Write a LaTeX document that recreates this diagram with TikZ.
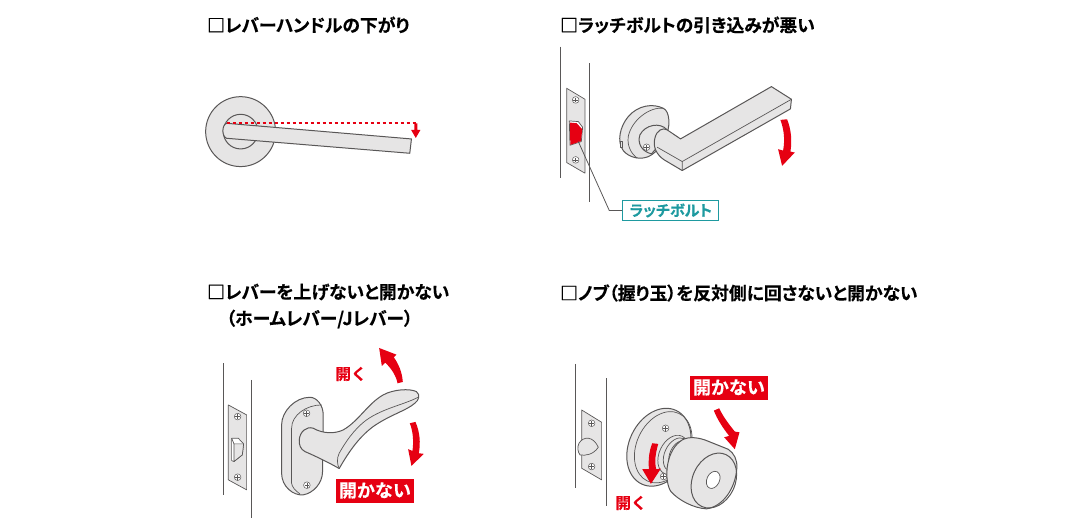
\documentclass[tikz,border=0pt]{standalone}
\usepackage{fontspec}
\setmainfont{Noto Sans CJK JP}
\newfontfamily\jpbold{Noto Sans CJK JP Bold}[RawFeature={+palt}, FakeBold=0.3]
\newfontfamily\jplabel{Noto Sans CJK JP Bold}[FakeBold=0.3]
\definecolor{doorred}{HTML}{E60012}
\definecolor{doorgray}{HTML}{E6E5E5}
\definecolor{doorline}{HTML}{595757}
\definecolor{doorteal}{HTML}{1E9AA0}
\tikzset{
  title/.style={anchor=west, inner sep=0pt, font=\jpbold\fontsize{17.8}{20}\selectfont},
  part/.style={draw=doorline, fill=doorgray, line width=1pt, line join=round},
  edge/.style={draw=doorline, line width=0.7pt, line join=round},
  wall/.style={draw=doorline, line width=1pt},
  redarrow/.style={fill=doorred, draw=none},
  redtext/.style={inner sep=0pt, text=doorred, font=\jplabel\fontsize{15.5}{18}\selectfont},
  redbox/.style={fill=doorred, text=white, inner sep=0pt, minimum width=78pt, minimum height=24pt, font=\jplabel\fontsize{18}{20}\selectfont},
  tealbox/.style={draw=doorteal, fill=white, line width=1.2pt, text=doorteal, inner sep=0pt, minimum width=96pt, minimum height=20pt, font=\jpbold\fontsize{15}{16}\selectfont},
  screwhead/.pic={
    \draw[edge, fill=white, line width=0.5pt] (0,0) circle (10);
    \draw[edge, line width=0.5pt] (-7,0) -- (7,0) (0,-7) -- (0,7);
  }
}
\begin{document}
\begin{tikzpicture}[x=1pt, y=-1pt]
\useasboundingbox (0,0) rectangle (1080,524);

\node[title] (title1) at (207,25) {□レバーハンドルの下がり};
\node[title] (title2) at (560,25) {□ラッチボルトの引き込みが悪い};
\node[title] (title3) at (207,292) {□レバーを上げないと開かない};
\node[title] (title3b) at (226,319) {（ホームレバー/Jレバー）};
\node[title] (title4) at (560,293) {□ノブ（握り玉）を反対側に回さないと開かない};

% lever, side view
\begin{scope}[shift={(190,90)}, x=0.333pt, y=-0.333pt]
\draw[part] (152,125) circle (105);
\draw[part] (152,125) circle (52);
\draw[part] (110,100) -- (665,147) -- (660,190) -- (110,145)
  .. controls (95,140) and (95,105) .. (110,100) -- cycle;
\draw[doorred, dashed, line width=1.2pt] (110,99) -- (678,99);
\fill[redarrow] (674,100) -- (683,100) -- (683,120) -- (692,120) -- (678,144) -- (664,120) -- (674,120) -- cycle;
\end{scope}

% lever, latch bolt
\begin{scope}[shift={(550,40)}, x=0.333pt, y=-0.333pt]
\draw[wall] (33,20) -- (33,415);
\draw[wall] (120,70) -- (120,485);
\draw[part, line width=0.7pt] (50,145) -- (105,178) -- (105,400) -- (50,368) -- cycle;
\pic at (77,180) {screwhead};
\pic at (77,360) {screwhead};
\draw[edge, fill=white] (58,243) -- (85,245) -- (98,262) -- (94,305) -- (60,316) -- cycle;
\fill[doorred] (60,248) -- (80,250) -- (97,268) -- (93,304) -- (61,315) -- cycle;
\coordinate (boltend) at (85,305);
\coordinate (bend) at (178,512);
\draw[part] (340,205) .. controls (310,190) and (265,195) .. (235,230)
  .. controls (210,260) and (200,305) .. (220,332)
  .. controls (235,352) and (275,365) .. (305,345)
  .. controls (335,325) and (360,280) .. (357,240)
  .. controls (355,220) and (350,210) .. (340,205) -- cycle;
\draw[edge] (340,205) .. controls (300,200) and (245,240) .. (235,290)
  .. controls (231,320) and (245,342) .. (262,355);
\draw[part, line width=0.7pt] (210,305) rectangle (218,322);
\draw[part] (352,270) .. controls (330,245) and (285,255) .. (270,285)
  .. controls (262,310) and (275,335) .. (305,342) -- (340,300) -- cycle;
\pic at (290,322) {screwhead};
\draw[part] (392,297) -- (665,140) -- (725,178) -- (722,207) -- (397,392) -- (343,360)
  .. controls (320,345) and (308,320) .. (315,295)
  .. controls (320,270) and (340,262) .. (352,270) -- cycle;
\draw[edge] (725,178) -- (397,365) -- (397,392);
\draw[edge] (397,365) -- (322,322);
\fill[redarrow] (692,240) -- (712,238) .. controls (725,270) and (727,305) .. (722,335)
  -- (735,338) -- (697,378) -- (685,328) -- (700,332) .. controls (706,300) and (703,270) .. (692,240) -- cycle;
\end{scope}

\node[tealbox] (boltlabel) at (670.8,210.5) {ラッチボルト};
\draw[doorline, line width=0.8pt] (boltend) -- (bend) -- (boltlabel.west);

% lever, lift to open
\begin{scope}[shift={(210,340)}, x=0.333pt, y=-0.333pt]
\draw[wall] (40,70) -- (40,465);
\draw[wall] (125,120) -- (125,535);
\draw[part, line width=0.7pt] (55,195) -- (110,225) -- (110,450) -- (55,420) -- cycle;
\pic at (83,230) {screwhead};
\pic at (83,412) {screwhead};
\draw[edge, fill=white] (65,295) -- (85,295) -- (101,312) -- (97,345) -- (72,365) -- (65,362) -- cycle;
\draw[edge, fill=doorgray] (72,312) -- (101,312) -- (97,345) -- (72,365) -- cycle;
\draw[edge] (65,295) -- (72,312);
\draw[part] (300,172) .. controls (255,172) and (215,215) .. (215,255)
  -- (215,400) .. controls (215,440) and (250,468) .. (280,465)
  .. controls (310,460) and (338,430) .. (338,395)
  -- (340,225) .. controls (340,195) and (320,172) .. (300,172) -- cycle;
\draw[edge] (335,195) .. controls (290,195) and (245,225) .. (245,265)
  -- (245,430) .. controls (246,440) and (255,452) .. (270,462);
\pic at (290,220) {screwhead};
\pic at (291,436) {screwhead};
\draw[part] (268,300) .. controls (270,275) and (290,258) .. (310,265)
  .. controls (340,282) and (375,282) .. (400,270)
  .. controls (445,245) and (475,190) .. (520,165)
  .. controls (550,148) and (600,145) .. (620,155)
  .. controls (632,165) and (628,180) .. (615,190)
  .. controls (590,212) and (540,225) .. (490,260)
  .. controls (450,290) and (420,330) .. (388,386)
  .. controls (360,370) and (320,350) .. (285,335)
  .. controls (272,328) and (267,315) .. (268,300) -- cycle;
\draw[edge] (625,172) .. controls (580,195) and (520,205) .. (470,240)
  .. controls (430,270) and (405,310) .. (388,340) .. controls (380,355) and (382,375) .. (388,386);
\fill[redarrow] (563,130) -- (579,126) .. controls (577,95) and (565,70) .. (552,52)
  -- (560,44) -- (508,24) -- (516,78) -- (526,68) .. controls (545,85) and (560,110) .. (563,130) -- cycle;
\fill[redarrow] (600,250) -- (617,246) .. controls (630,275) and (633,310) .. (627,340)
  -- (642,342) -- (605,378) -- (595,328) -- (608,333) .. controls (612,305) and (610,275) .. (600,250) -- cycle;
\end{scope}
\node[redtext] (open1) at (351,374) {開く};
\node[redbox] (stuck1) at (375,490.5) {開かない};

% knob
\begin{scope}[shift={(565,360)}, x=0.333pt, y=-0.333pt]
\draw[wall] (33,12) -- (33,385);
\draw[wall] (126,55) -- (126,438);
\draw[part, line width=0.7pt] (50,150) -- (110,187) -- (110,360) -- (50,325) -- cycle;
\pic at (80,190) {screwhead};
\pic at (80,320) {screwhead};
\draw[part, line width=0.7pt] (100,262) .. controls (85,228) and (55,228) .. (42,250)
  .. controls (36,262) and (38,275) .. (45,285) .. controls (60,288) and (85,285) .. (100,262) -- cycle;
\draw[part, rotate around={-25:(282,262)}] (282,262) ellipse (90 and 122);
\draw[edge, rotate around={-25:(295,262)}] (295,262) ellipse (80 and 112);
\pic at (302,205) {screwhead};
\pic at (296,350) {screwhead};
\draw[part, line width=0.7pt, rotate around={-25:(325,285)}] (325,285) ellipse (42 and 62);
\draw[edge, rotate around={-25:(335,285)}] (335,285) ellipse (36 and 54);
\draw[edge, rotate around={-25:(345,285)}] (345,285) ellipse (30 and 46);
\draw[part] (345,245) .. controls (365,228) and (395,232) .. (420,240) -- (490,268)
  .. controls (508,280) and (518,300) .. (516,325)
  .. controls (512,385) and (475,440) .. (425,447)
  .. controls (385,445) and (340,420) .. (318,395)
  .. controls (298,365) and (300,280) .. (345,245) -- cycle;
\draw[edge, line width=1pt, rotate around={-25:(447,362)}] (447,362) ellipse (64 and 86);
\draw[edge, fill=white, rotate around={-25:(445,360)}] (445,360) ellipse (19 and 27);
\fill[redarrow] (447,152) -- (463,145) .. controls (475,170) and (490,190) .. (510,215)
  -- (524,217) -- (510,268) -- (478,232) -- (493,228) .. controls (475,205) and (458,180) .. (447,152) -- cycle;
\fill[redarrow] (262,250) -- (280,252) .. controls (272,280) and (268,305) .. (274,328)
  -- (288,326) -- (258,372) -- (232,328) -- (252,328) .. controls (250,300) and (252,275) .. (262,250) -- cycle;
\end{scope}
\node[redbox] (stuck2) at (729,387.5) {開かない};
\node[redtext] (open2) at (631,503) {開く};
\end{tikzpicture}
\end{document}
